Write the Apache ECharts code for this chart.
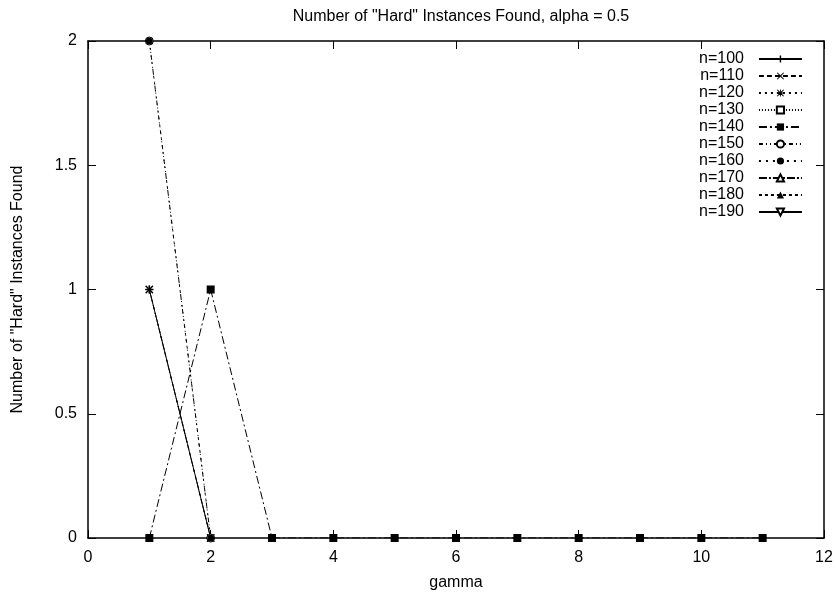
<!DOCTYPE html>
<html>
<head>
<meta charset="utf-8">
<script src="https://cdn.jsdelivr.net/npm/echarts@6/dist/echarts.min.js"></script>
<style>
  html, body { margin: 0; padding: 0; background: #fff; }
  #chart { width: 836px; height: 596px; }
</style>
</head>
<body>
<div id="chart"></div>
<script>
// gamma values along the x axis
const gammaTicks = [0, 2, 4, 6, 8, 10, 12];
const seriesNames = ['n=100', 'n=110', 'n=120', 'n=130', 'n=140', 'n=150', 'n=160', 'n=170', 'n=180', 'n=190'];

// [gamma, count] pairs for each problem size
const n100 = [[1, 1], [2, 0]];
const n110 = [[1, 1], [2, 0]];
const n120 = [[1, 1], [2, 0]];
const n130 = [];
const n140 = [[1, 0], [2, 1], [3, 0], [4, 0], [5, 0], [6, 0], [7, 0], [8, 0], [9, 0], [10, 0], [11, 0]];
const n150 = [[1, 2], [2, 0]];
const n160 = [[1, 2], [2, 0]];
const n170 = [];
const n180 = [];
const n190 = [];
const seriesData = [n100, n110, n120, n130, n140, n150, n160, n170, n180, n190];

// point glyphs and dash patterns in the gnuplot monochrome style
const PLUS = 'path://M4,0H6V4H10V6H6V10H4V6H0V4H4Z';
const CROSS = 'path://M1,0L5,4L9,0L10,1L6,5L10,9L9,10L5,6L1,10L0,9L4,5L0,1Z';
const STAR = 'path://M4.4,0H5.6V4.4H10V5.6H5.6V10H4.4V5.6H0V4.4H4.4Z M1,0L5,4L9,0L10,1L6,5L10,9L9,10L5,6L1,10L0,9L4,5L0,1Z';

const styles = [
  { symbol: PLUS,       fill: '#000', dash: 'solid',        rotate: 0,   size: 8 },
  { symbol: CROSS,      fill: '#000', dash: [5, 3],         rotate: 0,   size: 8 },
  { symbol: STAR,       fill: '#000', dash: [2, 4],         rotate: 0,   size: 8 },
  { symbol: 'rect',     fill: '#fff', dash: [1, 2],         rotate: 0,   size: 8 },
  { symbol: 'rect',     fill: '#000', dash: [8, 3, 2, 3],   rotate: 0,   size: 8 },
  { symbol: 'circle',   fill: '#fff', dash: [4, 3, 1, 3, 1, 3], rotate: 0, size: 8 },
  { symbol: 'circle',   fill: '#000', dash: [2, 5],         rotate: 0,   size: 7 },
  { symbol: 'triangle', fill: '#fff', dash: [8, 2, 2, 2],   rotate: 0,   size: 8 },
  { symbol: 'triangle', fill: '#000', dash: [3, 3],         rotate: 0,   size: 8 },
  { symbol: 'triangle', fill: '#fff', dash: 'solid',        rotate: 180, size: 8 }
];

const FONT = 'Liberation Sans, Arial, Helvetica, sans-serif';
const FS = 16;

const series = seriesNames.map((name, i) => {
  const s = styles[i];
  const openGlyph = s.fill === '#fff';
  return {
    name: name,
    type: 'line',
    data: seriesData[i],
    symbol: s.symbol,
    symbolSize: s.size,
    symbolRotate: s.rotate,
    showAllSymbol: true,
    lineStyle: { color: '#000', width: 1, type: s.dash },
    itemStyle: {
      color: s.fill,
      borderColor: '#000',
      borderWidth: openGlyph ? 1 : 0
    },
    emphasis: { disabled: true },
    animation: false
  };
});

// frame axes: ticks point into the plot, lines stay on the frame edges
function frameAxis(extra) {
  return Object.assign({
    type: 'value',
    axisLine: { show: true, onZero: false, lineStyle: { color: '#000', width: 1.5 } },
    axisTick: { show: true, inside: true, length: 8, lineStyle: { color: '#000', width: 1 } },
    splitLine: { show: false }
  }, extra);
}

const chart = echarts.init(document.getElementById('chart'), null, { renderer: 'canvas' });
chart.setOption({
  backgroundColor: '#fff',
  animation: false,
  title: {
    text: 'Number of "Hard" Instances Found, alpha = 0.5',
    left: 456,
    top: 4,
    textAlign: 'center',
    textStyle: { fontFamily: FONT, fontSize: FS, fontWeight: 'normal', color: '#000' }
  },
  grid: { left: 88, right: 12, top: 41, bottom: 55, containLabel: false },
  legend: {
    orient: 'vertical',
    left: 694,
    top: 46,
    align: 'right',
    itemWidth: 43,
    itemHeight: 9,
    itemGap: 1,
    data: seriesNames,
    textStyle: { fontFamily: FONT, fontSize: FS, color: '#000', padding: [0, 10, 0, 0] },
    selectedMode: false
  },
  xAxis: [
    frameAxis({
      position: 'bottom',
      min: gammaTicks[0],
      max: gammaTicks[gammaTicks.length - 1],
      interval: 2,
      name: 'gamma',
      nameLocation: 'middle',
      nameGap: 37,
      nameTextStyle: { fontFamily: FONT, fontSize: FS, color: '#000' },
      axisLabel: { margin: 12, fontFamily: FONT, fontSize: FS, color: '#000' }
    }),
    frameAxis({
      position: 'top',
      min: 0, max: 12, interval: 2,
      axisLabel: { show: false }
    })
  ],
  yAxis: [
    frameAxis({
      position: 'left',
      min: 0, max: 2, interval: 0.5,
      name: 'Number of "Hard" Instances Found',
      nameLocation: 'middle',
      nameGap: 62,
      nameTextStyle: { fontFamily: FONT, fontSize: FS, color: '#000' },
      axisLabel: { margin: 11, fontFamily: FONT, fontSize: FS, color: '#000' }
    }),
    frameAxis({
      position: 'right',
      min: 0, max: 2, interval: 0.5,
      axisLabel: { show: false }
    })
  ],
  series: series
});
</script>
</body>
</html>
